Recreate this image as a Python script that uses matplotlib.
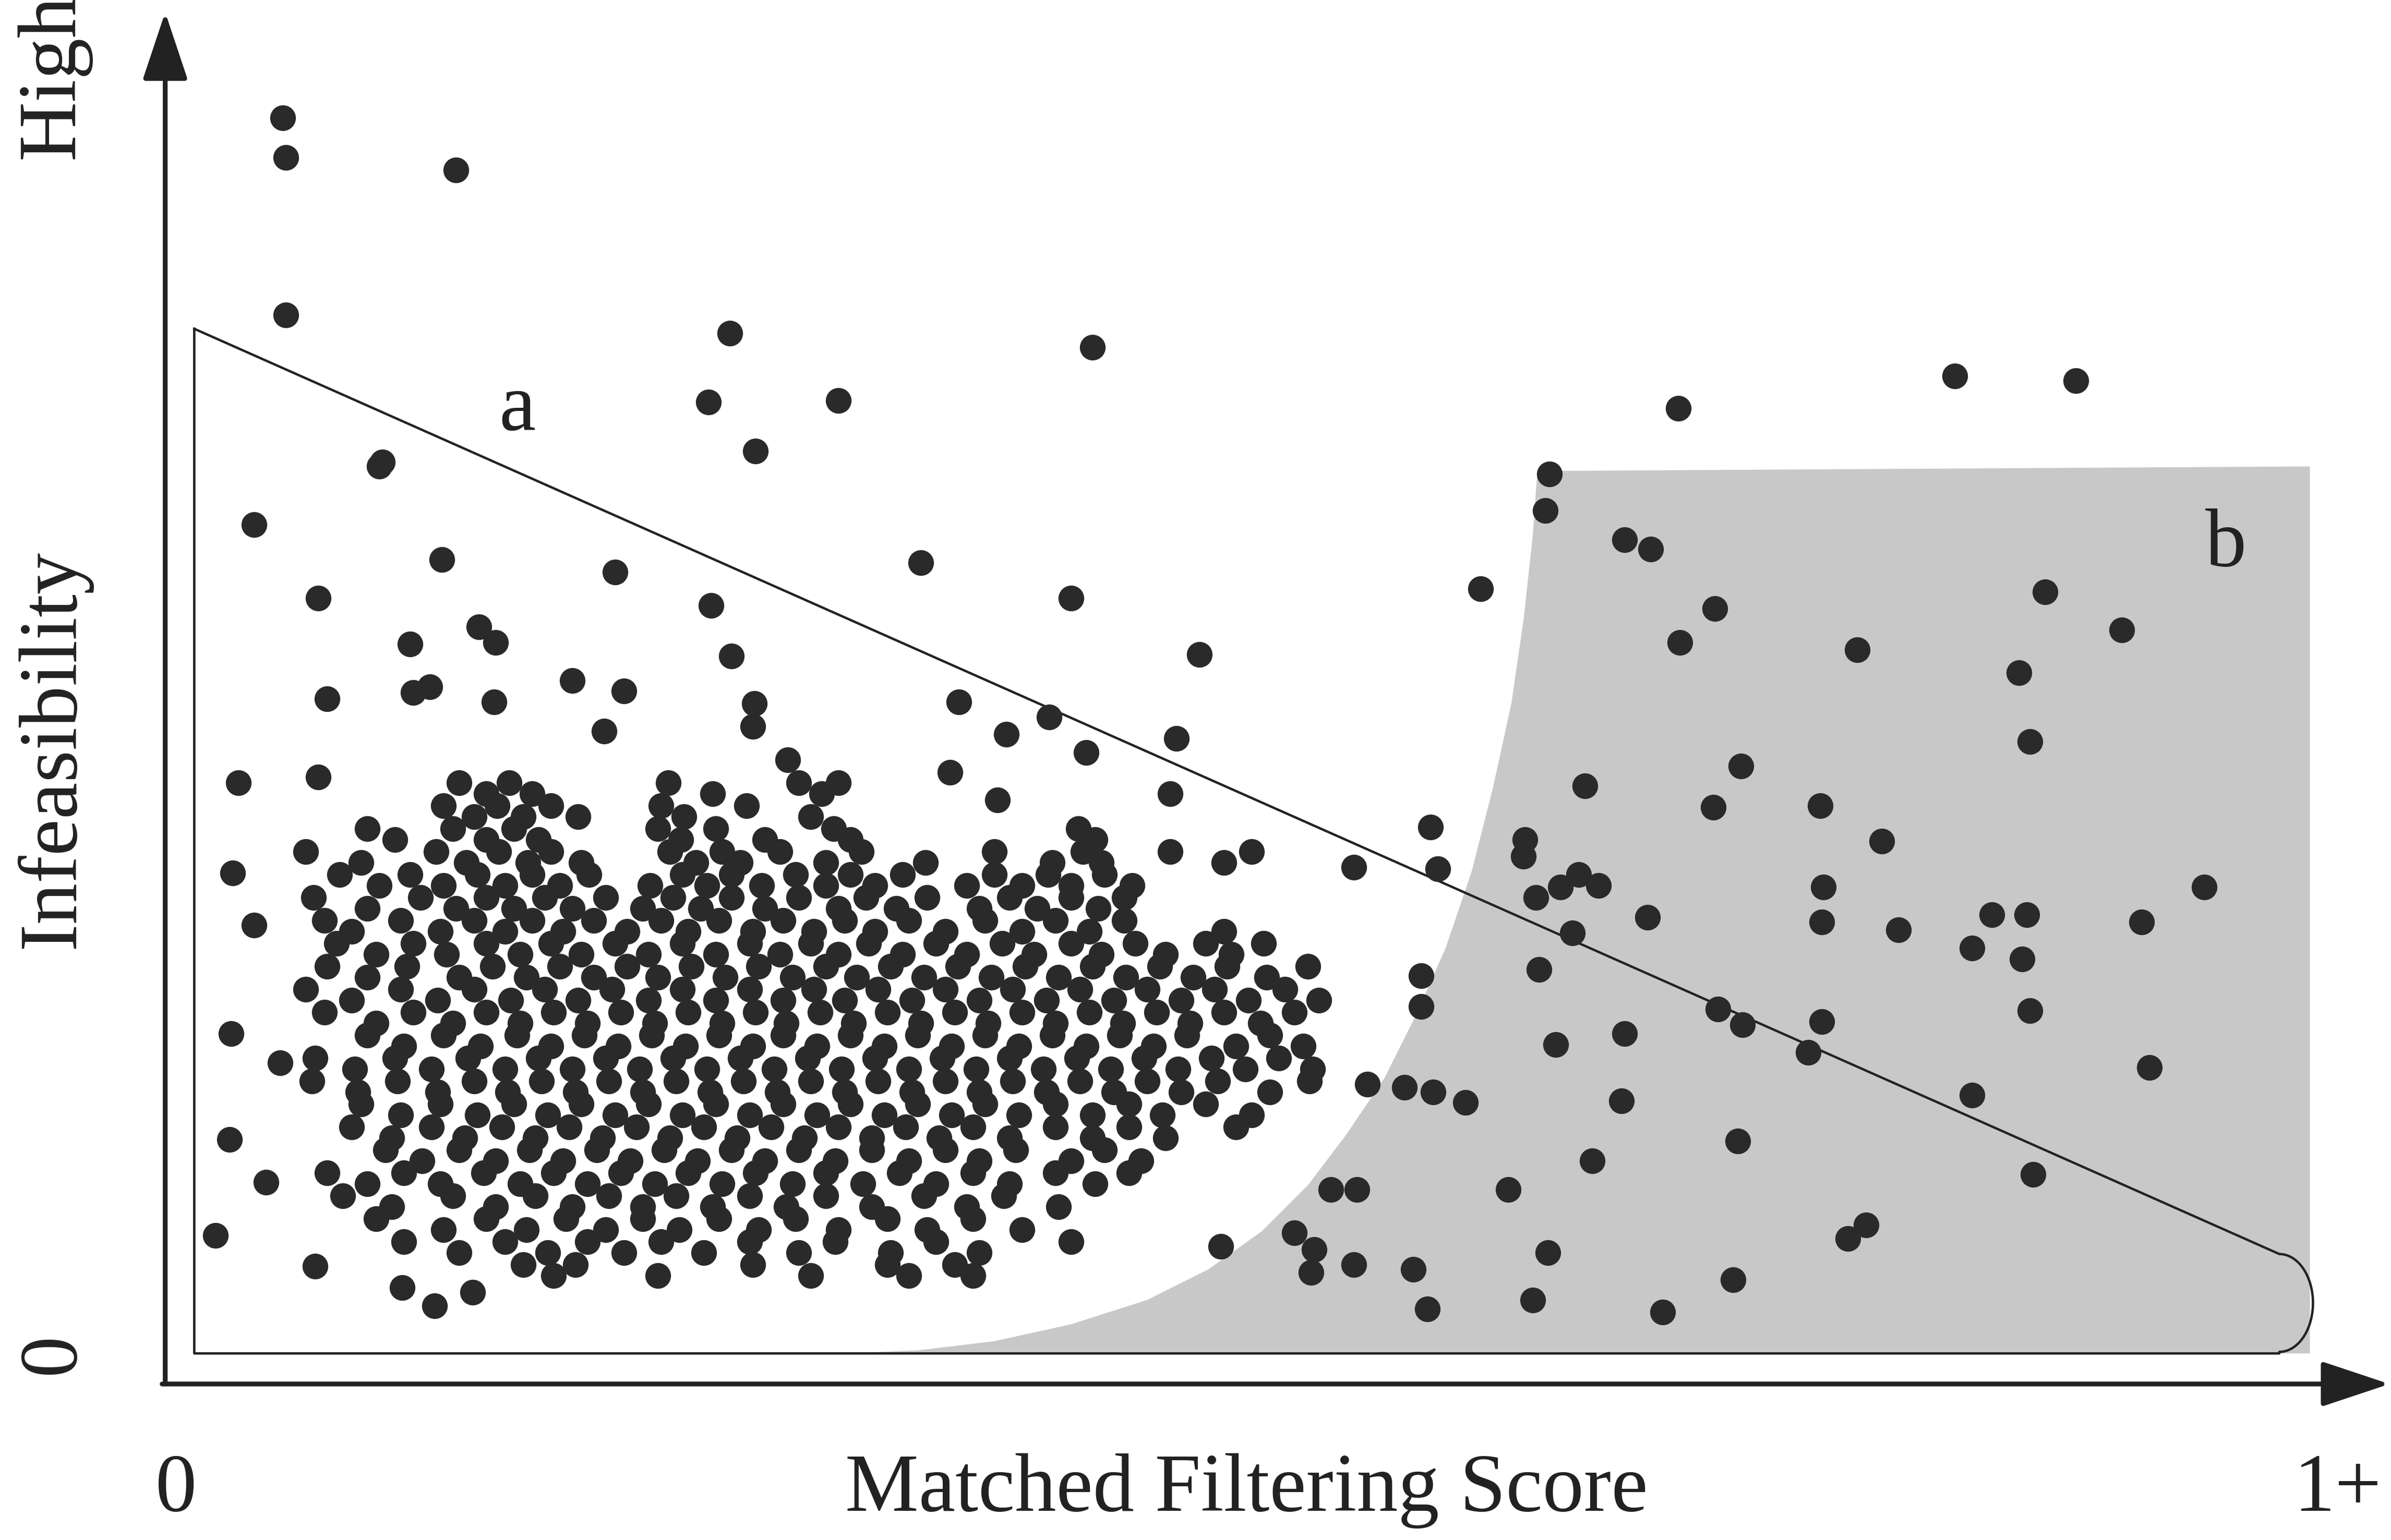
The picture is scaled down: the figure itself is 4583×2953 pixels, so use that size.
import numpy as np
import matplotlib
matplotlib.use("Agg")
import matplotlib.pyplot as plt

# coordinates are in reference-picture units (x to the right, y downward)

# points outside the main cluster
outlier_x = [185, 187, 298, 187, 477, 714, 463, 548, 494, 250, 248, 166, 289, 402, 602, 208, 465, 700,
             268, 313, 324, 478, 784, 374, 270, 281, 214, 408, 323, 627, 493, 686, 658, 492, 395, 769,
             710, 515, 156, 208, 621, 652, 765, 935, 885, 940, 152, 166, 151, 150, 183, 141, 206, 284,
             263, 309, 174]
outlier_y = [77, 103, 111, 206, 218, 227, 263, 262, 295, 302, 305, 343, 366, 374, 368, 391, 396, 391,
             421, 410, 420, 429, 428, 445, 453, 449, 457, 452, 459, 459, 460, 469, 480, 475, 478, 483,
             492, 497, 512, 508, 505, 523, 519, 541, 567, 568, 571, 605, 676, 745, 695, 808, 828, 854,
             842, 845, 773]

right_x = [1097, 1278, 1357, 1013, 1010, 1062, 1079, 968, 1121, 1098, 1337, 1387, 1214, 1320, 1327, 1036,
           1138, 1120, 1190, 1230, 997, 996, 1004, 1020, 1032, 1045, 1028, 1077, 1192, 1191, 1241, 1289,
           1302, 1325, 1322, 1400, 1441, 1006, 929, 929, 1123, 1139, 1062, 1191, 1182, 1017, 1327, 1405,
           1289, 1060, 894, 918, 937, 958, 1136, 1041, 1329, 986, 1012, 1220, 1208, 870, 887, 846, 798,
           859, 885, 924, 1133, 1002, 933, 1087, 857]
right_y = [267, 246, 249, 310, 334, 353, 359, 385, 398, 420, 387, 412, 425, 440, 485, 514,
           501, 528, 527, 550, 549, 560, 587, 580, 572, 579, 610, 600, 580, 603, 608, 620,
           598, 598, 627, 603, 580, 634, 638, 658, 660, 670, 676, 668, 688, 683, 661, 698,
           716, 720, 709, 711, 714, 721, 746, 759, 768, 778, 819, 801, 810, 778, 778, 806, 815,
           817, 827, 830, 837, 850, 856, 858, 832]

# dense cluster, row by row
cluster_rows = {
    515: [300, 318, 333, 348, 437, 466, 522, 537, 548],
    530: [290, 310, 325, 342, 360, 378, 432, 447, 488, 530],
    545: [240, 258, 296, 318, 336, 352, 430, 445, 468, 500, 545, 556, 705, 716],
    560: [200, 236, 285, 305, 326, 345, 360, 380, 438, 455, 472, 484, 510, 540, 563, 605, 650, 688, 708, 720, 765, 800, 818],
    575: [222, 248, 268, 290, 312, 330, 348, 366, 385, 425, 446, 462, 478, 498, 520, 540, 556, 572, 590, 632, 650, 668, 685, 700, 722, 740],
    590: [205, 240, 275, 298, 318, 336, 356, 374, 396, 420, 440, 458, 478, 500, 522, 548, 566, 586, 606, 640, 660, 678, 700, 718, 735],
    605: [212, 230, 262, 288, 310, 330, 348, 368, 388, 410, 432, 450, 470, 492, 512, 532, 552, 572, 594, 618, 644, 668, 690, 712, 735, 800],
    620: [220, 246, 270, 292, 318, 340, 360, 380, 402, 424, 446, 468, 490, 510, 530, 548, 568, 590, 612, 632, 655, 676, 700, 720, 742, 762, 788, 805, 826],
    635: [214, 240, 266, 300, 322, 344, 366, 388, 410, 430, 452, 474, 496, 518, 540, 560, 582, 604, 626, 648, 670, 692, 714, 736, 758, 780, 802, 828, 855],
    650: [200, 230, 262, 286, 310, 334, 356, 378, 400, 424, 446, 468, 490, 512, 532, 552, 574, 596, 618, 640, 662, 684, 706, 728, 750, 772, 794, 816, 840, 862],
    665: [212, 246, 270, 296, 318, 340, 362, 384, 406, 428, 450, 472, 494, 514, 536, 558, 580, 602, 624, 646, 668, 690, 712, 734, 756, 778, 800, 824, 846],
    680: [240, 264, 290, 314, 338, 360, 382, 404, 426, 448, 470, 492, 512, 534, 556, 578, 600, 622, 644, 666, 688, 710, 732, 754, 776, 808, 830, 852],
    695: [206, 232, 258, 282, 306, 330, 352, 374, 396, 418, 440, 462, 484, 506, 528, 550, 572, 594, 616, 638, 660, 682, 704, 726, 748, 770, 792, 814, 836, 858],
    710: [204, 234, 260, 286, 310, 332, 354, 376, 398, 420, 442, 464, 486, 508, 530, 552, 574, 596, 618, 640, 662, 684, 706, 728, 750, 772, 796, 830, 856],
    725: [236, 262, 288, 312, 336, 358, 380, 402, 424, 446, 468, 490, 512, 534, 556, 578, 600, 622, 644, 666, 690, 714, 738, 760, 788, 818],
    740: [230, 256, 282, 304, 328, 350, 372, 394, 416, 438, 460, 482, 504, 526, 548, 570, 592, 614, 636, 660, 690, 714, 738, 762, 808],
    755: [252, 276, 300, 324, 346, 368, 390, 412, 434, 456, 478, 500, 522, 546, 570, 594, 618, 640, 664, 700, 722, 746],
    770: [214, 240, 264, 288, 316, 340, 362, 384, 406, 428, 450, 472, 494, 518, 540, 564, 588, 612, 636, 660, 690, 716, 738],
    785: [224, 256, 296, 324, 350, 374, 398, 420, 442, 466, 490, 514, 540, 570, 604, 632, 656, 692],
    800: [246, 290, 318, 344, 370, 396, 420, 444, 470, 496, 520, 548, 580, 606, 636, 668],
    815: [264, 300, 330, 358, 384, 408, 432, 460, 490, 522, 546, 582, 612, 640, 700],
    830: [342, 362, 376, 430, 492, 530, 580, 594, 624, 636],
}

# gray region boundary (curve then flat top)
gray_x = [550, 600, 650, 700, 750, 790, 825, 855, 880, 905, 925, 945, 962, 976, 988, 996, 1002, 1005, 1510, 1510]
gray_y = [885, 883, 877, 866, 850, 830, 805, 775, 742, 705, 665, 620, 570, 515, 460, 405, 350, 308, 305, 885]

fig = plt.figure(figsize=(4583 / 300, 2953 / 300), dpi=300)
ax = fig.add_axes([0, 0, 1, 1])
ax.set_xlim(0, 1563)
ax.set_ylim(1007, 0)
ax.axis("off")

ax.fill(gray_x, gray_y, color="#c8c8c8", lw=0, zorder=1)

# region a outline with rounded right end
t = np.linspace(np.pi / 2, -np.pi / 2, 40)
arc_x = 1490 + 22 * np.cos(t)
arc_y = 852 - 32 * np.sin(t)
ox = [127, 127, 1490] + list(arc_x[::-1]) + [127]
oy = [215, 885, 885] + list(arc_y[::-1]) + [215]
ax.plot(ox, oy, color="#222222", lw=1.1, zorder=2)

cx, cy = [], []
for yy, xs in cluster_rows.items():
    for i, xx in enumerate(xs):
        cx.append(xx)
        cy.append(yy + (4 if i % 2 else -3))

dot = dict(s=140, color="#2a2a2a", lw=0, zorder=3)
ax.scatter(outlier_x, outlier_y, **dot)
ax.scatter(right_x, right_y, **dot)
ax.scatter(cx, cy, **dot)

arrow = dict(arrowstyle="-|>,head_length=0.45,head_width=0.15", lw=2.2, color="#222222",
             mutation_scale=60, shrinkA=0, shrinkB=0)
ax.annotate("", xy=(108, 8), xytext=(108, 905), arrowprops=arrow, zorder=4)
ax.annotate("", xy=(1562, 905), xytext=(106, 905), arrowprops=arrow, zorder=4)

font = dict(family="Liberation Serif", fontsize=38, color="#222222")
ax.text(338, 268, "a", ha="center", va="center", **font)
ax.text(1455, 357, "b", ha="center", va="center", **font)
ax.text(35, 50, "High", rotation=90, ha="center", va="center", **font)
ax.text(35, 490, "Infeasibility", rotation=90, ha="center", va="center", **font)
ax.text(35, 885, "0", rotation=90, ha="center", va="center", **font)
ax.text(115, 975, "0", ha="center", va="center", **font)
ax.text(1528, 975, "1+", ha="center", va="center", **font)
ax.text(815, 975, "Matched Filtering Score", ha="center", va="center", **font)

fig.savefig("out.png", dpi=300)
